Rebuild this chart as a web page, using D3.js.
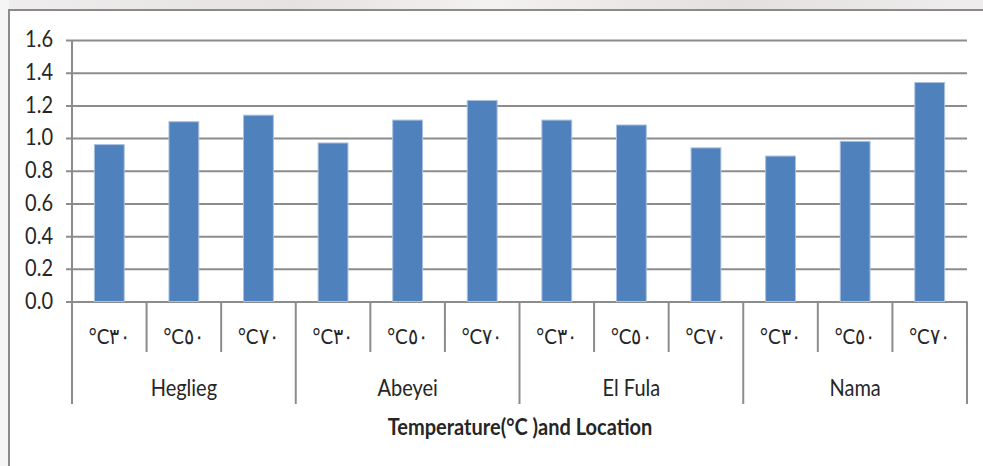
<!DOCTYPE html>
<html>
<head>
<meta charset="utf-8">
<script src="https://cdn.jsdelivr.net/npm/d3@7"></script>
<style>
  html, body { margin: 0; padding: 0; background: #ffffff; }
  svg { display: block; }
  text { font-family: Lato, "Noto Sans", sans-serif; fill: #262626; }
</style>
</head>
<body>
<svg id="chart" width="983" height="466"></svg>
<script>
// Locations and the temperatures measured at each one
const locations = ["Heglieg", "Abeyei", "El Fula", "Nama"];
const temperatures = ["°C٣٠", "°C٥٠", "°C٧٠"];

// One value per temperature, in the order of `temperatures`
const heglieg = [0.96, 1.10, 1.14];
const abeyei  = [0.97, 1.11, 1.23];
const elFula  = [1.11, 1.08, 0.94];
const nama    = [0.89, 0.98, 1.34];

const yTicks = [0.0, 0.2, 0.4, 0.6, 0.8, 1.0, 1.2, 1.4, 1.6];
const xTitle = "Temperature(°C )and Location";

const seriesByLocation = [heglieg, abeyei, elFula, nama];
const rows = [];
locations.forEach((loc, i) => {
  temperatures.forEach((t, j) => {
    rows.push({ key: loc + "|" + t, location: loc, temp: t, value: seriesByLocation[i][j] });
  });
});

const svg = d3.select("#chart");
const W = 983, H = 466;
const STRETCH = 1.15; // tall, narrow lettering

// faint backdrop strip above and left of the chart frame
const defs = svg.append("defs");
const grad = defs.append("linearGradient").attr("id", "topStrip").attr("x1", 0).attr("x2", 1);
grad.append("stop").attr("offset", "0").attr("stop-color", "#efeded");
grad.append("stop").attr("offset", "0.3").attr("stop-color", "#e6e2e2");
grad.append("stop").attr("offset", "0.5").attr("stop-color", "#f4f1f1");
grad.append("stop").attr("offset", "0.75").attr("stop-color", "#e4e0e0");
grad.append("stop").attr("offset", "1").attr("stop-color", "#efeded");
svg.append("rect").attr("x", 0).attr("y", 0).attr("width", W).attr("height", 10).attr("fill", "url(#topStrip)");
svg.append("rect").attr("x", 0).attr("y", 0).attr("width", 9).attr("height", H).attr("fill", "#f6f5f5");

// chart frame
svg.append("rect").attr("x", 9).attr("y", 10).attr("width", W + 10).attr("height", H + 10)
  .attr("fill", "#ffffff").attr("stroke", "#8a8a8a").attr("stroke-width", 2);

const plot = { left: 72, right: 967, top: 40, bottom: 301.5 };

const x = d3.scaleBand()
  .domain(rows.map(d => d.key))
  .range([plot.left, plot.right])
  .paddingInner(0.6)
  .paddingOuter(0.3);

const y = d3.scaleLinear().domain([0, 1.6]).range([plot.bottom, plot.top]);

// horizontal gridlines with tick labels
const yAxis = d3.axisLeft(y)
  .tickValues(yTicks)
  .tickFormat(d3.format(".1f"))
  .tickSize(-(plot.right - plot.left + 6))
  .tickPadding(13);

const gy = svg.append("g")
  .attr("transform", `translate(${plot.right},0)`)
  .call(yAxis);
gy.select(".domain").remove();
gy.selectAll(".tick line").attr("stroke", "#8c8c8c").attr("stroke-width", 2)
  .attr("x1", 0).attr("x2", -(plot.right - plot.left + 6));
gy.selectAll(".tick text")
  .attr("x", -(plot.right - plot.left) - 19)
  .attr("dy", "0.3em")
  .attr("transform", `scale(1,${STRETCH})`)
  .attr("font-size", 20)
  .attr("fill", "#1f1f1f")
  .attr("font-family", "Lato, 'Noto Sans', sans-serif");

// bars
svg.append("g").selectAll("rect")
  .data(rows)
  .join("rect")
  .attr("x", d => x(d.key))
  .attr("width", x.bandwidth())
  .attr("y", d => y(d.value))
  .attr("height", d => y(0) - y(d.value))
  .attr("fill", "#4f81bd")
  .attr("stroke", "#a9c1df")
  .attr("stroke-width", 1);

// vertical y-axis line
svg.append("line")
  .attr("x1", plot.left).attr("x2", plot.left)
  .attr("y1", plot.top).attr("y2", 404)
  .attr("stroke", "#8c8c8c").attr("stroke-width", 2);

// helper: centred label, stretched vertically about its own centre
function label(g, cx, cy, txt, size, weight, color) {
  return g.append("text")
    .attr("transform", `translate(${cx},${cy}) scale(1,${STRETCH})`)
    .attr("text-anchor", "middle")
    .attr("dominant-baseline", "central")
    .attr("font-size", size)
    .attr("font-weight", weight || "normal")
    .attr("fill", color || "#262626")
    .text(txt);
}

// category axis: temperature row and location row
const step = x.step();
const catTop = plot.bottom, catMid = 352, catBottom = 404;
const axisG = svg.append("g");

rows.forEach((d, i) => {
  const left = plot.left + i * step;
  const isGroupEdge = i % temperatures.length === 0;
  if (i > 0) {
    axisG.append("line")
      .attr("x1", left).attr("x2", left)
      .attr("y1", catTop).attr("y2", isGroupEdge ? catBottom : catMid)
      .attr("stroke", "#8c8c8c").attr("stroke-width", 2);
  }
  label(axisG, left + step / 2, 335, d.temp, 19);
});
axisG.append("line")
  .attr("x1", plot.right).attr("x2", plot.right)
  .attr("y1", catTop).attr("y2", catBottom)
  .attr("stroke", "#8c8c8c").attr("stroke-width", 2);

locations.forEach((loc, i) => {
  const cx = plot.left + (i + 0.5) * temperatures.length * step;
  label(axisG, cx, 387, loc, 20);
});

// axis title
label(svg, 520, 426, xTitle, 20, "bold", "#000");
</script>
</body>
</html>
